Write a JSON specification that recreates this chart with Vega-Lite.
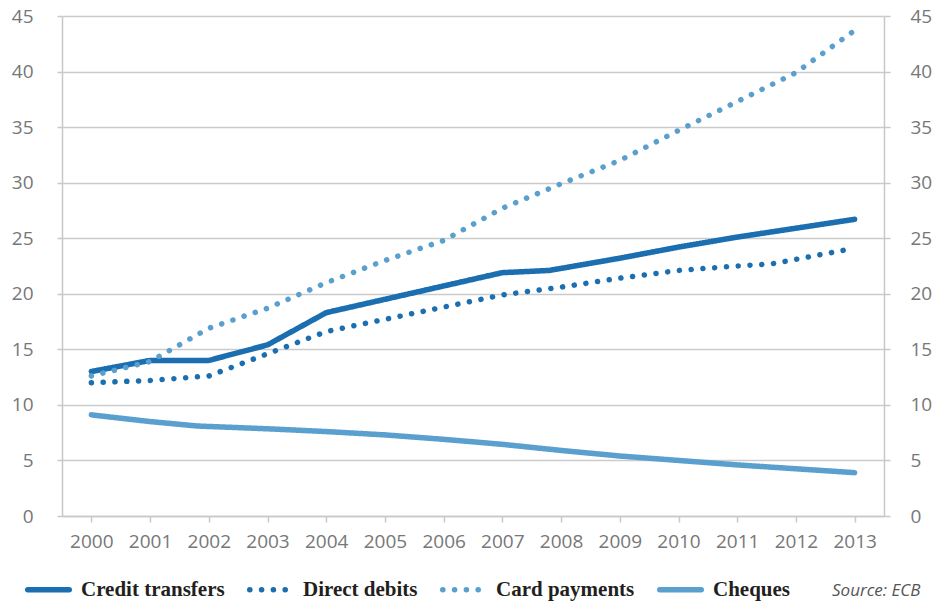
{
  "$schema": "https://vega.github.io/schema/vega-lite/v6.json",
  "width": 822,
  "height": 500,
  "autosize": "none",
  "padding": {"left": 62, "top": 16, "right": 58, "bottom": 85},
  "background": "white",
  "config": {"view": {"stroke": null}},
  "data": {
    "values": [
      {"series": "Credit transfers", "year": 2000, "value": 13.0},
      {"series": "Credit transfers", "year": 2001, "value": 14.0},
      {"series": "Credit transfers", "year": 2002, "value": 14.0},
      {"series": "Credit transfers", "year": 2003, "value": 15.4},
      {"series": "Credit transfers", "year": 2004, "value": 18.3},
      {"series": "Credit transfers", "year": 2005, "value": 19.5},
      {"series": "Credit transfers", "year": 2006, "value": 20.7},
      {"series": "Credit transfers", "year": 2007, "value": 21.9},
      {"series": "Credit transfers", "year": 2007.8, "value": 22.1},
      {"series": "Credit transfers", "year": 2009, "value": 23.2},
      {"series": "Credit transfers", "year": 2010, "value": 24.2},
      {"series": "Credit transfers", "year": 2011, "value": 25.1},
      {"series": "Credit transfers", "year": 2012, "value": 25.9},
      {"series": "Credit transfers", "year": 2013, "value": 26.7},
      {"series": "Direct debits", "year": 2000, "value": 12.0},
      {"series": "Direct debits", "year": 2001, "value": 12.2},
      {"series": "Direct debits", "year": 2002, "value": 12.6},
      {"series": "Direct debits", "year": 2003, "value": 14.6},
      {"series": "Direct debits", "year": 2004, "value": 16.6},
      {"series": "Direct debits", "year": 2005, "value": 17.7},
      {"series": "Direct debits", "year": 2006, "value": 18.8},
      {"series": "Direct debits", "year": 2007, "value": 19.9},
      {"series": "Direct debits", "year": 2008, "value": 20.6},
      {"series": "Direct debits", "year": 2009, "value": 21.4},
      {"series": "Direct debits", "year": 2010, "value": 22.1},
      {"series": "Direct debits", "year": 2011, "value": 22.5},
      {"series": "Direct debits", "year": 2011.6, "value": 22.7},
      {"series": "Direct debits", "year": 2012, "value": 23.1},
      {"series": "Direct debits", "year": 2013, "value": 24.1},
      {"series": "Card payments", "year": 2000, "value": 12.6},
      {"series": "Card payments", "year": 2001, "value": 13.9},
      {"series": "Card payments", "year": 2002, "value": 16.9},
      {"series": "Card payments", "year": 2003, "value": 18.7},
      {"series": "Card payments", "year": 2004, "value": 21.0},
      {"series": "Card payments", "year": 2005, "value": 23.0},
      {"series": "Card payments", "year": 2006, "value": 24.8},
      {"series": "Card payments", "year": 2007, "value": 27.7},
      {"series": "Card payments", "year": 2008, "value": 29.9},
      {"series": "Card payments", "year": 2009, "value": 32.0},
      {"series": "Card payments", "year": 2010, "value": 34.7},
      {"series": "Card payments", "year": 2011, "value": 37.3},
      {"series": "Card payments", "year": 2012, "value": 39.9},
      {"series": "Card payments", "year": 2013, "value": 43.7},
      {"series": "Cheques", "year": 2000, "value": 9.1},
      {"series": "Cheques", "year": 2001, "value": 8.5},
      {"series": "Cheques", "year": 2001.8, "value": 8.1},
      {"series": "Cheques", "year": 2003, "value": 7.85},
      {"series": "Cheques", "year": 2004, "value": 7.6},
      {"series": "Cheques", "year": 2005, "value": 7.3},
      {"series": "Cheques", "year": 2006, "value": 6.9},
      {"series": "Cheques", "year": 2007, "value": 6.45},
      {"series": "Cheques", "year": 2008, "value": 5.9},
      {"series": "Cheques", "year": 2009, "value": 5.4},
      {"series": "Cheques", "year": 2010, "value": 5.0},
      {"series": "Cheques", "year": 2011, "value": 4.6},
      {"series": "Cheques", "year": 2012, "value": 4.25},
      {"series": "Cheques", "year": 2013, "value": 3.9}
    ]
  },
  "layer": [
    {
      "mark": {"type": "line", "strokeWidth": 5.5, "strokeCap": "round", "strokeJoin": "round"},
      "encoding": {
        "x": {
          "field": "year", "type": "quantitative",
          "scale": {"domain": [1999.5, 2013.5], "nice": false, "zero": false},
          "axis": {
            "values": [2000, 2001, 2002, 2003, 2004, 2005, 2006, 2007, 2008, 2009, 2010, 2011, 2012, 2013],
            "format": "d", "title": null, "grid": false,
            "labelFont": "Open Sans", "labelFontSize": 19, "labelColor": "#777777",
            "labelPadding": 10, "labelFlush": false, "labelOverlap": false,
            "tickColor": "#c8c8c8", "tickSize": 6, "tickWidth": 1.5,
            "domainColor": "#c8c8c8", "domainWidth": 1.5
          }
        },
        "y": {
          "field": "value", "type": "quantitative",
          "scale": {"domain": [0, 45], "nice": false},
          "axis": {
            "orient": "left", "values": [0, 5, 10, 15, 20, 25, 30, 35, 40, 45],
            "title": null, "grid": true, "gridColor": "#cbcbcb", "gridWidth": 1.5,
            "labelFont": "Open Sans", "labelFontSize": 19, "labelColor": "#777777",
            "labelPadding": 24, "tickColor": "#c8c8c8", "tickSize": 5, "tickWidth": 1.5,
            "domainColor": "#c8c8c8", "domainWidth": 1.5
          }
        },
        "color": {
          "field": "series", "type": "nominal",
          "scale": {
            "domain": ["Credit transfers", "Direct debits", "Card payments", "Cheques"],
            "range": ["#1b6fb0", "#1b6fb0", "#5aa0cf", "#5aa0cf"]
          },
          "legend": {
            "orient": "none", "legendX": -37, "legendY": 550, "direction": "horizontal",
            "title": "Source: ECB", "titleOrient": "right", "titlePadding": 42,
            "titleFont": "Open Sans", "titleFontStyle": "italic", "titleFontWeight": "normal",
            "titleFontSize": 17, "titleColor": "#555555",
            "labelFont": "Liberation Serif", "labelFontWeight": "bold", "labelFontSize": 21,
            "labelColor": "#231f20", "labelOffset": 9, "columnPadding": 13,
            "symbolType": "stroke", "symbolSize": 1722, "symbolStrokeWidth": 5.5,
            "encode": {
              "symbols": {"update": {"strokeCap": {"value": "round"}}},
              "title": {"update": {"dy": {"value": 8}}}
            }
          }
        },
        "strokeDash": {
          "field": "series", "type": "nominal",
          "scale": {
            "domain": ["Credit transfers", "Direct debits", "Card payments", "Cheques"],
            "range": [[1, 0], [0.1, 11.7], [0.1, 11.7], [1, 0]]
          },
          "legend": {
            "orient": "none", "legendX": -37, "legendY": 550, "direction": "horizontal",
            "title": "Source: ECB", "titleOrient": "right", "titlePadding": 42,
            "titleFont": "Open Sans", "titleFontStyle": "italic", "titleFontWeight": "normal",
            "titleFontSize": 17, "titleColor": "#555555",
            "labelFont": "Liberation Serif", "labelFontWeight": "bold", "labelFontSize": 21,
            "labelColor": "#231f20", "labelOffset": 9, "columnPadding": 13,
            "symbolType": "stroke", "symbolSize": 1722, "symbolStrokeWidth": 5.5,
            "encode": {
              "symbols": {"update": {"strokeCap": {"value": "round"}}},
              "title": {"update": {"dy": {"value": 8}}}
            }
          }
        }
      }
    },
    {
      "mark": {"type": "point", "opacity": 0},
      "encoding": {
        "x": {"field": "year", "type": "quantitative"},
        "y": {
          "field": "value", "type": "quantitative",
          "axis": {
            "orient": "right", "values": [0, 5, 10, 15, 20, 25, 30, 35, 40, 45],
            "title": null, "grid": false,
            "labelFont": "Open Sans", "labelFontSize": 19, "labelColor": "#777777",
            "labelPadding": 20, "tickColor": "#c8c8c8", "tickSize": 6, "tickWidth": 1.5,
            "domainColor": "#c8c8c8", "domainWidth": 1.5
          }
        }
      }
    }
  ],
  "resolve": {"axis": {"y": "independent"}}
}
